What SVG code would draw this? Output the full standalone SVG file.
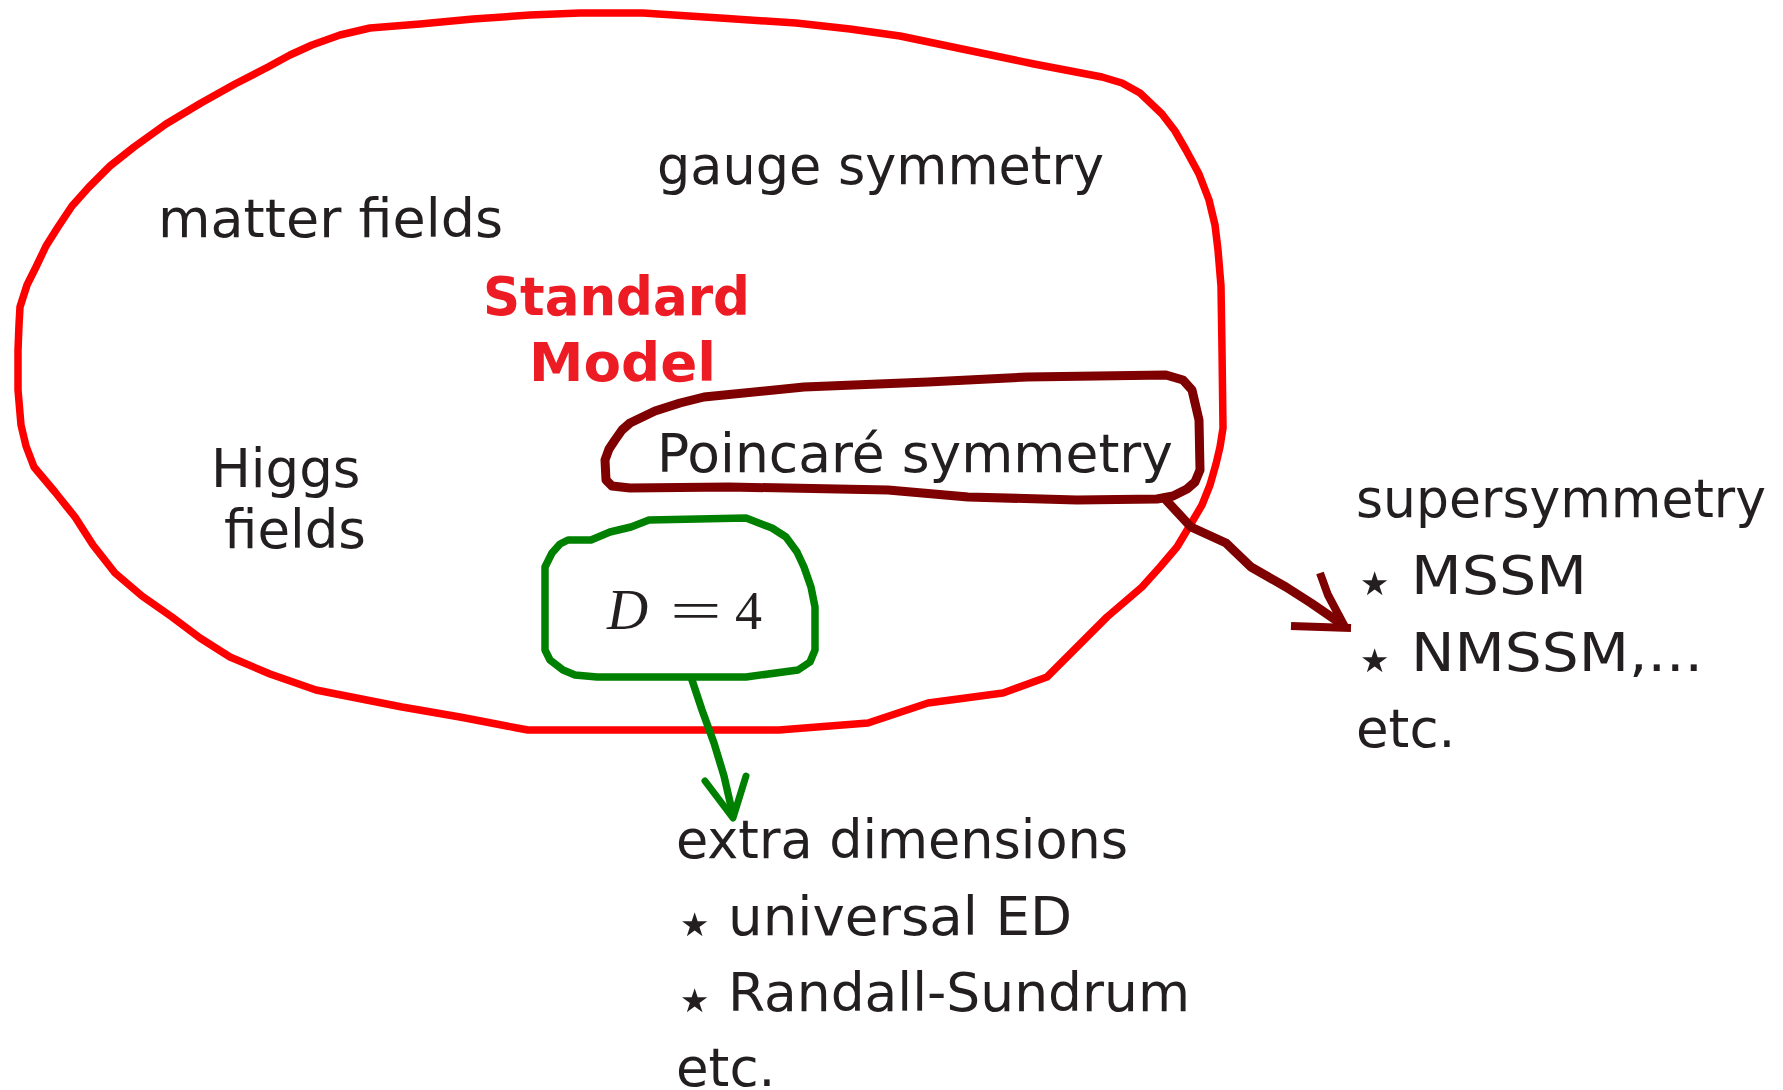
<svg xmlns="http://www.w3.org/2000/svg" width="1783" height="1090" viewBox="0 0 1783 1090">
<style>
.t{font-family:"DejaVu Sans","Liberation Sans",sans-serif;font-size:53px;fill:#231f20}
.st{font-size:66px}
.sm{font-family:"DejaVu Sans","Liberation Sans",sans-serif;font-size:53px;font-weight:bold;fill:#ed1c24}
.m{font-family:"Liberation Serif","DejaVu Serif",serif;fill:#231f20}
.red{fill:none;stroke:#ff0000;stroke-width:7.5;stroke-linejoin:round;stroke-linecap:round}
.mar{fill:none;stroke:#7f0000;stroke-width:9;stroke-linejoin:round;stroke-linecap:round}
.grn{fill:none;stroke:#008000;stroke-width:7.5;stroke-linejoin:round;stroke-linecap:round}
.marA{fill:none;stroke:#7f0000;stroke-width:8;stroke-linejoin:miter;stroke-linecap:butt}
.grnA{fill:none;stroke:#008000;stroke-width:7;stroke-linejoin:round;stroke-linecap:round}
</style>
<rect width="1783" height="1090" fill="#ffffff"/>
<g id="standard-model">
<polygon class="red" points="18,350 19,325 20,307 27,285 36,267 46,246 58,227 72,206 89,187 110,166 134,147 166,124 201,103 235,84 268,67 290,55 312,45 340,35 370,28 420,24 473,19 530,15 580,13 643,13 720,18 796,23 850,29 900,36 967,50 1034,64 1102,77 1122,83 1140,93 1162,114 1175,131 1186,150 1199,174 1209,200 1215,225 1218,250 1221,286 1222,350 1223,428 1220,447 1216,464 1210,485 1202,505 1192,522 1177,547 1160,567 1142,587 1107,617 1077,647 1062,662 1047,677 1003,693 928,703 868,723 779,730 528,730 517,728 460,717 402,707 316,690 270,674 230,657 200,638 172,617 142,596 115,573 93,545 75,517 55,492 34,467 26,446 21,425 18,390"/>
<text class="t" x="657" y="184" textLength="447" lengthAdjust="spacingAndGlyphs">gauge symmetry</text>
<text class="t" x="158" y="237" textLength="345" lengthAdjust="spacingAndGlyphs">matter fields</text>
<text class="sm" x="483" y="315" textLength="267" lengthAdjust="spacingAndGlyphs">Standard</text>
<text class="sm" x="529" y="381" textLength="187" lengthAdjust="spacingAndGlyphs">Model</text>
<text class="t" x="211" y="487">Higgs</text>
<text class="t" x="224" y="548">fields</text>
</g>
<g id="poincare">
<polygon class="mar" points="630,423 655,411 680,403 704,397 804,387 928,382 1027,377 1166,375 1183,380 1192,390 1199,420 1200,470 1195,482 1187,489 1173,496 1157,499 1077,500 968,497 888,490 729,487 630,488 612,486 606,480 605,460 609,449 615,440 622,430"/>
<text class="t" x="657" y="472" textLength="516" lengthAdjust="spacingAndGlyphs">Poincaré symmetry</text>
</g>
<g id="dimension">
<polygon class="grn" points="649,520 746,518 772,528 786,537 797,552 804,567 811,587 815,607 815,650 810,662 798,670 746,677 597,677 575,675 563,670 550,660 545,650 545,567 552,553 560,544 568,540 591,540 610,532 631,527"/>
<text class="m" x="607" y="629" font-size="57" font-style="italic">D</text>
<text class="m" font-size="54" transform="translate(670,629) scale(1.7,1)">=</text>
<text class="m" x="735" y="629" font-size="54">4</text>
</g>
<g id="susy">
<text class="t" x="1356" y="517" textLength="410" lengthAdjust="spacingAndGlyphs">supersymmetry</text>
<text class="t" x="1354" y="594"><tspan class="st" dy="11">⋆</tspan><tspan x="1411" dy="-11" textLength="176" lengthAdjust="spacingAndGlyphs">MSSM</tspan></text>
<text class="t" x="1354" y="671"><tspan class="st" dy="11">⋆</tspan><tspan x="1411" dy="-11" textLength="292" lengthAdjust="spacingAndGlyphs">NMSSM,...</tspan></text>
<text class="t" x="1356" y="747">etc.</text>
</g>
<g id="extra-dimensions">
<text class="t" x="676" y="858" textLength="452" lengthAdjust="spacingAndGlyphs">extra dimensions</text>
<text class="t" x="674" y="935"><tspan class="st" dy="11">⋆</tspan><tspan x="728" dy="-11" textLength="344" lengthAdjust="spacingAndGlyphs">universal ED</tspan></text>
<text class="t" x="674" y="1011"><tspan class="st" dy="11">⋆</tspan><tspan x="728" dy="-11" textLength="462" lengthAdjust="spacingAndGlyphs">Randall-Sundrum</tspan></text>
<text class="t" x="676" y="1086">etc.</text>
</g>
<g id="connectors">
<polyline class="mar" points="1166,500 1191,527 1226,543 1251,567 1286,587 1311,603 1343,625"/>
<polyline class="marA" points="1320,573 1328,595 1345,627"/>
<polyline class="marA" points="1291,626 1351,628"/>
<polyline class="grn" points="692,680 702,710 714,743 724,776 733,815"/>
<polyline class="grnA" points="705,781 733,818 746,776"/>
</g>
</svg>
